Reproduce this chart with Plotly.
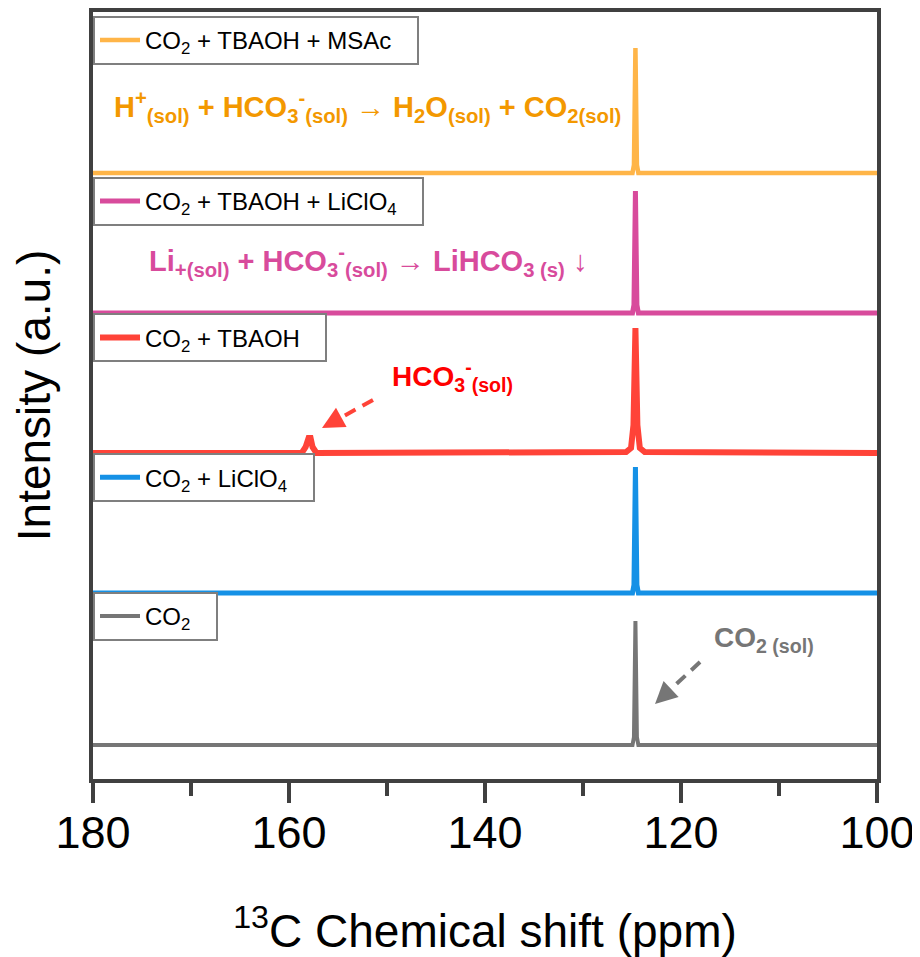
import plotly.graph_objects as go

# ---------------- data ----------------
# chemical shift axis (ppm)
x_range = [180, 100]
major_ticks = [180, 160, 140, 120, 100]
minor_ticks = [170, 150, 130, 110]

# spectra: shift points (ppm) and intensities (a.u., baseline = 0)
co2_ppm = [180, 124.95, 124.8, 124.65, 124.5, 124.35, 100]
co2_int = [0, 0, 8, 124, 8, 0, 0]

licl_ppm = [180, 124.95, 124.8, 124.65, 124.5, 124.35, 100]
licl_int = [0, 0, 8, 126, 8, 0, 0]

tbaoh_ppm = [180, 158.7, 158.3, 158.0, 157.8, 157.6, 157.2, 125.6, 125.1, 124.85, 124.65, 124.45, 124.2, 123.7, 100]
tbaoh_int = [0, 0, 6, 15, 15, 6, 0, 1, 5, 28, 125, 28, 5, 1, 0]

tbaoh_li_ppm = [180, 124.95, 124.8, 124.65, 124.5, 124.35, 100]
tbaoh_li_int = [0, 0, 8, 122, 8, 0, 0]

tbaoh_msa_ppm = [180, 124.95, 124.8, 124.65, 124.5, 124.35, 100]
tbaoh_msa_int = [0, 0, 8, 125, 8, 0, 0]

# vertical stacking offsets (a.u.)
offsets = [34, 186, 326, 466, 606]

NB = "\u00a0\u00a0\u00a0"
names = ["CO<sub>2</sub>" + NB,
         "CO<sub>2</sub> + LiClO<sub>4</sub>" + NB,
         "CO<sub>2</sub> + TBAOH" + NB,
         "CO<sub>2</sub> + TBAOH + LiClO<sub>4</sub>" + NB,
         "CO<sub>2</sub> + TBAOH + MSAc" + NB]
line_colors = ["#767676", "#1591E6", "#FF4338", "#D84B9C", "#FFB548"]
line_widths = [4, 5, 6, 5, 4.5]
legend_ids = ["legend5", "legend4", "legend3", "legend2", "legend"]
legend_tops = [0.244, 0.425, 0.607, 0.785, 0.995]

ppm_sets = [co2_ppm, licl_ppm, tbaoh_ppm, tbaoh_li_ppm, tbaoh_msa_ppm]
int_sets = [co2_int, licl_int, tbaoh_int, tbaoh_li_int, tbaoh_msa_int]

FONT = "Arial, Liberation Sans, sans-serif"

fig = go.Figure()
for ppm, inten, off, name, col, lw, lg in zip(ppm_sets, int_sets, offsets, names,
                                               line_colors, line_widths, legend_ids):
    fig.add_trace(go.Scatter(
        x=ppm, y=[v + off for v in inten], mode="lines", name=name,
        line=dict(color=col, width=lw), legend=lg, showlegend=True))

layout_legends = {}
for lg, top in zip(legend_ids, legend_tops):
    layout_legends[lg] = dict(
        x=0, xanchor="left", y=top, yanchor="top", xref="paper", yref="paper",
        bgcolor="white", bordercolor="#7f7f7f", borderwidth=2,
        font=dict(family=FONT, size=24, color="black"),
        itemwidth=40, tracegroupgap=0)

# page body has an 8px margin, so the figure is sized to fit inside the window
fig.update_layout(
    width=912, height=949,
    margin=dict(l=85, r=43, t=4, b=178, autoexpand=False),
    paper_bgcolor="white", plot_bgcolor="white",
    font=dict(family=FONT, color="black"),
    **layout_legends,
)

fig.update_xaxes(
    range=x_range, tickmode="array", tickvals=major_ticks,
    ticktext=[str(v) for v in major_ticks],
    ticks="outside", ticklen=20, tickwidth=4, tickcolor="#404040",
    ticklabelstandoff=-9, ticklabeloverflow="allow",
    minor=dict(tickmode="array", tickvals=minor_ticks, ticks="outside",
               ticklen=13, tickwidth=4, tickcolor="#404040"),
    showline=True, linewidth=4, linecolor="#404040", mirror=True,
    showgrid=False, zeroline=False, automargin=False,
    tickfont=dict(family=FONT, size=45, color="black"),
    title=dict(text="<sup>13</sup>C Chemical shift (ppm)",
               font=dict(family=FONT, size=46, color="black"), standoff=76),
)
fig.update_yaxes(
    range=[0, 767], showticklabels=False, ticks="",
    showline=True, linewidth=4, linecolor="#404040", mirror=True,
    showgrid=False, zeroline=False, automargin=False,
    title=dict(text="Intensity (a.u.)",
               font=dict(family=FONT, size=46, color="black"), standoff=30),
)

# reaction annotations
fig.add_annotation(
    x=178.06, y=672, xref="x", yref="y", xanchor="left", yanchor="middle",
    text="<b>H<sup>+</sup><sub>(sol)</sub> + HCO<sub>3</sub><sup>-</sup><sub>(sol)</sub></b>"
         " → <b>H<sub>2</sub>O<sub>(sol)</sub> + CO<sub>2(sol)</sub></b>",
    showarrow=False, font=dict(family=FONT, size=29, color="#F39800"))
fig.add_annotation(
    x=174.49, y=518, xref="x", yref="y", xanchor="left", yanchor="middle",
    text="<b>Li<sub>+(sol)</sub> + HCO<sub>3</sub><sup>-</sup><sub>(sol)</sub></b>"
         " → <b>LiHCO<sub>3 (s)</sub></b> ↓",
    showarrow=False, font=dict(family=FONT, size=29, color="#D84B9C"))
fig.add_annotation(
    x=149.7, y=403, xref="x", yref="y", xanchor="left", yanchor="middle",
    text="<b>HCO<sub>3</sub><sup>-</sup><sub>(sol)</sub></b>",
    showarrow=False, font=dict(family=FONT, size=28, color="#FF0000"))
fig.add_annotation(
    x=116.84, y=140, xref="x", yref="y", xanchor="left", yanchor="middle",
    text="<b>CO<sub>2 (sol)</sub></b>",
    showarrow=False, font=dict(family=FONT, size=28, color="#767676"))

# dashed arrows: dashed shaft (shape) + arrow head (annotation)
arrows = [
    # start(ppm, y), tip(ppm, y), tail pixel offset, colour
    ((151.43, 379), (156.63, 351), (17.6, -9.7), "#FF4338"),
    ((118.06, 117), (122.65, 75), (14.6, -13.7), "#767676"),
]
for (sx, sy), (tx, ty), (axp, ayp), col in arrows:
    tail_x = tx - axp / 9.8
    tail_y = ty - ayp
    fig.add_shape(type="line", xref="x", yref="y", x0=sx, y0=sy, x1=tail_x, y1=tail_y,
                  line=dict(color=col, width=4, dash="12px,8px"))
    fig.add_annotation(x=tx, y=ty, xref="x", yref="y", ax=axp, ay=ayp, text="",
                       showarrow=True, arrowhead=2, arrowsize=1.1, arrowwidth=4,
                       arrowcolor=col)

fig.write_html("out.html")
